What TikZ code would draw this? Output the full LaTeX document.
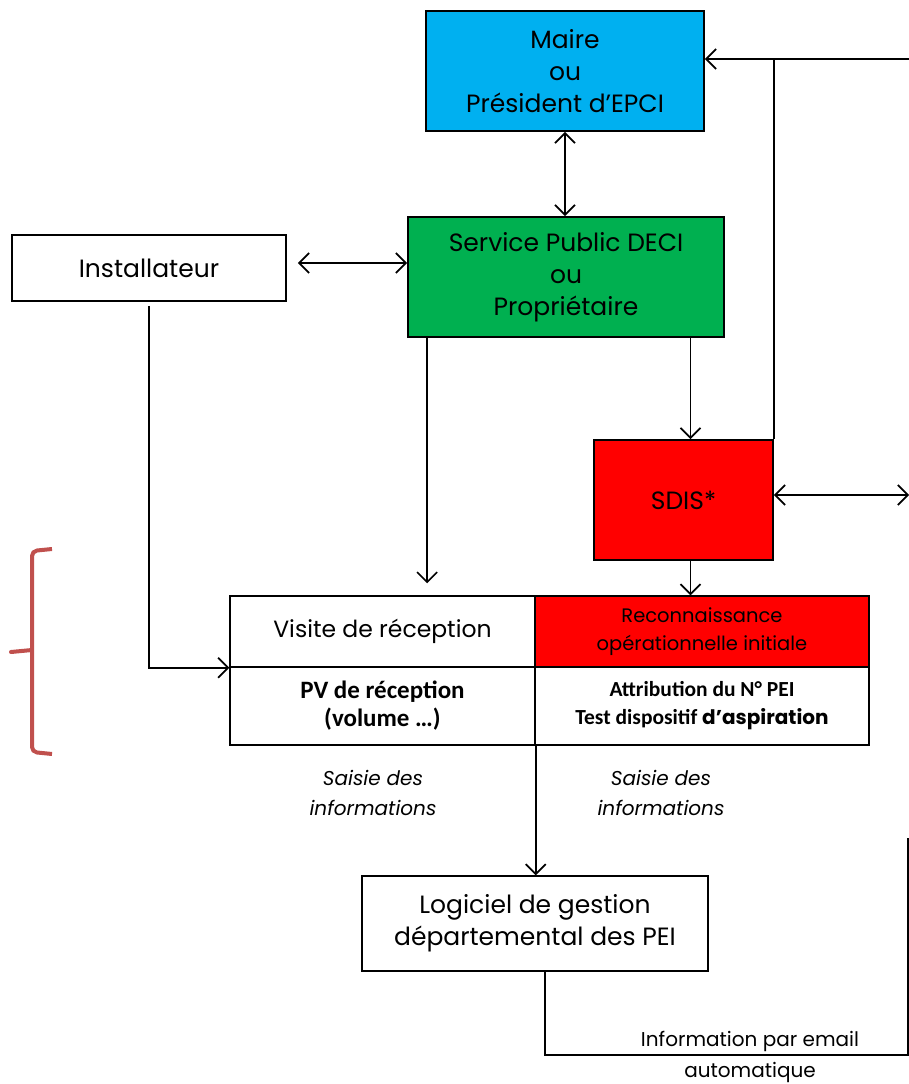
\documentclass[tikz,border=0pt]{standalone}
\usepackage{fontspec}
\setmainfont{Poppins}
\newfontfamily\carlito{Carlito}
\usetikzlibrary{arrows.meta}
\definecolor{maireblue}{HTML}{00B0F0}
\definecolor{decigreen}{HTML}{00B050}
\definecolor{sdisred}{HTML}{FF0000}
\definecolor{bracered}{HTML}{C0504D}

\begin{document}
\begin{tikzpicture}[x=1pt,y=-1pt,>={Straight Barb[length=10pt,width=20pt]}]
\tikzstyle{every node}+=[inner sep=0pt]
\tikzstyle{bloc}=[draw=black,line width=1.8pt,align=center,font=\fontsize{25}{32}\selectfont]
\tikzstyle{cellule}=[bloc,line width=1.4pt]
\tikzstyle{gras}=[cellule,font=\carlito\bfseries\fontsize{25}{28}\selectfont]
\tikzstyle{fleche}=[black,line width=1.7pt]
\tikzstyle{saisie}=[align=center,font=\itshape\fontsize{20}{30}\selectfont]
\useasboundingbox (0,0) rectangle (909,1084);
% boxes
\node [bloc,fill=maireblue,minimum width=278,minimum height=120] (maire) at (565,71) {Maire\\ou\\Président d’EPCI};
\node [bloc,fill=decigreen,minimum width=316,minimum height=120] (serv) at (566,277) {Service Public DECI\\ou\\Propriétaire};
\node [bloc,minimum width=274,minimum height=66] (inst) at (149,268) {Installateur};
\node [bloc,fill=sdisred,minimum width=179,minimum height=120] (sdis) at (683.5,500) {SDIS*};
% table
\node [cellule,minimum width=305,minimum height=71,font=\fontsize{23.5}{28}\selectfont] (visite) at (382.5,631.5) {Visite de réception};
\node [cellule,fill=sdisred,minimum width=334,minimum height=71,font=\fontsize{19.5}{28}\selectfont] (recon) at (702,631.5) {Reconnaissance\\opérationnelle initiale};
\node [gras,minimum width=305,minimum height=78] (pv) at (382.5,706) {PV de réception\\(volume …)};
\node [gras,minimum width=334,minimum height=78,font=\carlito\bfseries\fontsize{21.5}{28}\selectfont] (attrib) at (702,706) {Attribution du N° PEI\\Test dispositif {\fontspec{Poppins}\fontsize{20}{28}\selectfont d’aspiration}};
\node [saisie] (saisieg) at (373,793) {Saisie des\\informations};
\node [saisie] (saisied) at (661,793) {Saisie des\\informations};
\node [bloc,minimum width=346,minimum height=95,line width=1.4pt] (logi) at (535,923.5) {Logiciel de gestion\\départemental des PEI};
% right side
\coordinate (mailin) at (909,59);
\coordinate (sdisout) at (909,495);
\coordinate (mailcorner) at (908,1055);
\coordinate (mailend) at (908,838);
\node [font=\fontsize{20}{30}\selectfont] (infomail) at (750,1041) {Information par email};
\node [font=\fontsize{20}{30}\selectfont] (infoauto) at (750,1072) {automatique};
% connectors
\draw [fleche,<->] (maire.south) -- (maire.south |- serv.north);
\draw [fleche,<->,shorten <=11pt] ([yshift=5pt]inst.east) -- ([yshift=5pt]inst.east -| serv.west);
\draw [fleche,->,shorten <=4pt] (inst.south) |- (visite.south west);
\draw [fleche,->,shorten >=12pt] ([xshift=20pt]serv.south west) -- ([xshift=20pt]serv.south west |- visite.north);
\draw [fleche,->] ([xshift=7pt]sdis.north |- serv.south) -- ([xshift=7pt]sdis.north);
\draw [fleche,->] ([xshift=7pt]sdis.south) -- ([xshift=7pt]sdis.south |- recon.north);
\draw [fleche,->] (mailin) -- (mailin -| maire.east);
\draw [fleche] (sdis.north east) -- (sdis.north east |- mailin);
\draw [fleche,<->] ([yshift=5pt]sdis.east) -- (sdisout);
\draw [fleche,->] (pv.south east) -- (pv.south east |- logi.north);
\draw [fleche] ([xshift=10pt]logi.south) |- (mailcorner) -- (mailend);
% brace
\draw [bracered,line width=4pt,rounded corners=5pt] (52,549) -- (32,551) -- (32,752) -- (52,754);
\draw [bracered,line width=4pt,line cap=round] (32,650) -- (11,652);
\end{tikzpicture}
\end{document}
